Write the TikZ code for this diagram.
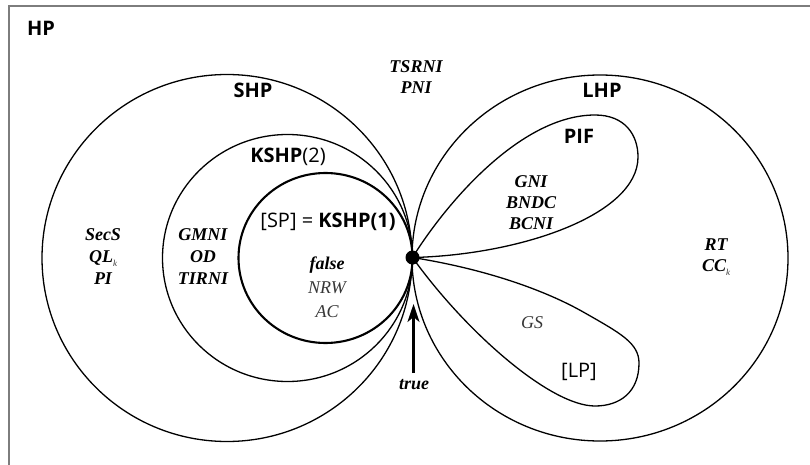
\documentclass[tikz,border=0pt]{standalone}
\usepackage{fontspec}
\setmainfont{Liberation Serif}
\setsansfont{Open Sans}
\usetikzlibrary{arrows.meta}
\definecolor{framegray}{RGB}{125,125,125}
\definecolor{txtgray}{RGB}{55,55,55}
\newcommand{\subk}{\raisebox{-0.45ex}{\fontsize{9}{9}\selectfont\mdseries\color{txtgray}k}}
\tikzset{
  sanslab/.style={font=\sffamily\fontsize{20}{22}\selectfont, inner sep=0pt},
  sansbold/.style={font=\sffamily\bfseries\fontsize{20}{22}\selectfont, inner sep=0pt},
  ital/.style={font=\rmfamily\bfseries\itshape\fontsize{18}{22}\selectfont, align=center, inner sep=0pt},
  setline/.style={line width=1.3pt},
  thickset/.style={line width=2.1pt},
  arr/.style={line width=2.2pt, -{Stealth[length=18pt, width=12pt, inset=5pt]}},
}
\begin{document}
\begin{tikzpicture}[x=1pt, y=-1pt]
\useasboundingbox (0,0) rectangle (810,465);
\clip (0,0) rectangle (810,465);
% frame
\draw[framegray, line width=1.5pt] (9,6) rectangle (830,490);
% tangent point
\node (tp) [circle, fill=black, inner sep=0pt, minimum size=14pt] at (412.5,257.5) {};
% left circles
\draw[setline] (227,258) ellipse [x radius=185pt, y radius=183.5pt];
\draw[setline] (287.5,258) ellipse [x radius=125pt, y radius=123.5pt];
\draw[thickset] (325.5,258) ellipse [x radius=87pt, y radius=85pt];
% right circle
\draw[setline] (600,258) ellipse [x radius=188pt, y radius=183pt];
% PIF loop
\draw[setline] (tp.center) .. controls (445,205) and (520,115) .. (595,115)
  .. controls (625,115) and (638,135) .. (638,157)
  .. controls (638,215) and (520,255) .. (tp.center);
% LP loop
\draw[setline] (tp.center) .. controls (485,269) and (545,290) .. (585,313)
  .. controls (620,333) and (639,343) .. (639,363)
  .. controls (639,392) and (620,406) .. (595,406)
  .. controls (550,406) and (465,331) .. (tp.center);
% labels
\node[sansbold] (hp) at (41,28) {HP};
\node[sansbold] (shp) at (253,90) {SHP};
\node[sanslab] (kshp2) at (288,157) {\textbf{KSHP}(2)};
\node[sanslab] (kshp1) at (328,222) {[SP] = \textbf{KSHP(1)}};
\node[ital] (secs) at (103,257) {SecS\\QL\subk\\PI};
\node[ital] (gmni) at (203,257) {GMNI\\OD\\TIRNI};
\node[ital, font=\rmfamily\fontsize{18}{24}\selectfont] (false) at (327,287)
  {\textbf{\textit{false}}\\\textit{\color{txtgray}NRW}\\\textit{\color{txtgray}AC}};
\node[ital, font=\rmfamily\bfseries\itshape\fontsize{18}{21}\selectfont] (tsrni) at (416,77.5) {TSRNI\\PNI};
\node[sansbold] (lhp) at (602,90) {LHP};
\node[sansbold] (pif) at (579,136) {PIF};
\node[ital, font=\rmfamily\bfseries\itshape\fontsize{18}{20.7}\selectfont] (gni) at (531,202.5) {GNI\\BNDC\\BCNI};
\node[ital, font=\rmfamily\bfseries\itshape\fontsize{18}{20.5}\selectfont] (rt) at (716,257) {RT\\CC\subk};
\node[font=\rmfamily\itshape\fontsize{18}{22}\selectfont, text=txtgray, inner sep=0pt] (gs) at (532,323) {GS};
\node[sanslab] (lp) at (579,372) {[LP]};
\node[ital] (true) at (414,385) {true};
% arrow
\coordinate (tail) at (413.5,373);
\coordinate (tip) at (413.5,304);
\draw[arr] (tail) -- (tip);
\end{tikzpicture}
\end{document}
